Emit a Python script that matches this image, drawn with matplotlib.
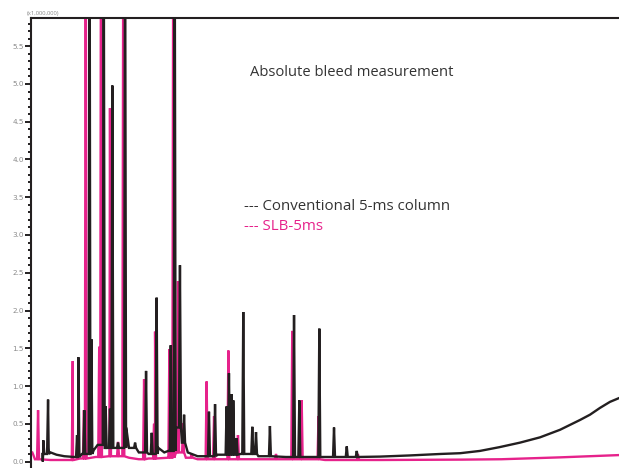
"""Column bleed comparison: conventional 5-ms column vs SLB-5ms (TIC overlay)."""
import matplotlib.pyplot as plt
import numpy as np
from matplotlib.ticker import MultipleLocator

BLACK = "#231f20"
PINK = "#e6228b"
TOP = 7.5  # off-scale peaks run past the top of the frame

# retention time (min), peak apex (x1,000,000 counts)
conv_peaks_t = [0.63, 0.87, 2.35, 2.42, 2.72, 2.99, 3.08, 3.71, 3.81, 4.03,
                4.15, 4.44, 4.80, 5.31, 5.87, 6.16, 6.41, 7.13, 7.33, 7.60,
                7.81, 9.08, 9.39, 9.98, 10.10, 10.24, 10.32, 10.49, 10.83,
                11.29, 11.48, 12.19, 13.42, 13.69, 14.71, 15.46, 16.11, 16.62]
conv_peaks_h = [0.28, 0.82, 0.35, 1.38, 0.68, TOP, 1.62, TOP, 0.73, 0.70,
                4.98, 0.25, TOP, 0.25, 1.20, 0.38, 2.17, 1.54, TOP, 2.60,
                0.62, 0.66, 0.76, 0.73, 1.17, 0.89, 0.81, 0.31, 1.98,
                0.46, 0.39, 0.47, 1.94, 0.81, 1.76, 0.45, 0.20, 0.14]

# baseline / bleed level of the conventional column
conv_base_t = [0.60, 0.62, 0.90, 1.00, 1.30, 1.70, 2.20, 2.60, 3.20, 3.40,
               3.80, 4.30, 4.86, 5.00, 5.50, 6.00, 6.50, 6.80, 7.00, 7.40,
               7.70, 8.00, 8.50, 9.50, 10.70, 11.60, 13.0, 15.0, 17.8, 19.3,
               20.9, 21.9, 22.9, 23.9, 24.95, 25.97, 26.99, 28.01, 28.52,
               29.03, 29.54, 30.0]
conv_base_y = [0.00, 0.10, 0.18, 0.12, 0.09, 0.07, 0.06, 0.10, 0.15, 0.22,
               0.18, 0.18, 0.45, 0.18, 0.12, 0.10, 0.18, 0.12, 0.14, 0.45,
               0.25, 0.12, 0.07, 0.09, 0.10, 0.07, 0.06, 0.06, 0.065, 0.08,
               0.10, 0.11, 0.14, 0.19, 0.25, 0.32, 0.42, 0.55, 0.62,
               0.71, 0.79, 0.84]

slb_peaks_t = [0.05, 0.36, 2.09, 2.13, 2.70, 2.79, 3.48, 3.57, 4.03, 4.44,
               4.71, 5.77, 6.28, 6.33, 7.06, 7.26, 7.50, 7.76, 8.20, 8.96,
               9.34, 10.07, 10.56, 12.50, 13.33, 13.81, 14.67, 16.68]
slb_peaks_h = [0.13, 0.68, 0.25, 1.33, 0.68, TOP, 1.52, TOP, 4.68, 0.26,
               TOP, 1.09, 0.50, 1.72, 1.49, TOP, 2.39, 0.51, 0.10, 1.06,
               0.60, 1.47, 0.35, 0.10, 1.73, 0.81, 0.60, 0.10]

slb_base_t = [0.00, 0.20, 1.00, 2.00, 2.50, 3.30, 4.00, 5.00, 5.50, 6.00,
              7.00, 7.40, 7.90, 8.50, 10.0, 15.0, 17.8, 22.0, 24.0, 27.0, 30.0]
slb_base_y = [0.10, 0.03, 0.02, 0.02, 0.04, 0.06, 0.07, 0.05, 0.03, 0.04,
              0.05, 0.12, 0.05, 0.03, 0.03, 0.02, 0.02, 0.025, 0.03, 0.055, 0.085]

HALF_WIDTH = 0.05  # peak half-width at the foot, min


def build_trace(peaks_t, peaks_h, base_t, base_y):
    """Merge baseline knots and narrow peaks into one polyline."""
    base_t = np.asarray(base_t)
    pts = list(zip(base_t, base_y))
    for t, h in zip(peaks_t, peaks_h):
        i = max(np.searchsorted(base_t, t, side="right") - 1, 0)
        foot = base_y[i]
        pts += [(t - HALF_WIDTH, foot), (t, h), (t + HALF_WIDTH, foot)]
    pts.sort(key=lambda p: p[0])
    t, y = zip(*pts)
    return np.array(t), np.array(y)


fig = plt.figure(figsize=(6.19, 4.68), dpi=100)
ax = fig.add_axes([31 / 619, 0.0, 588 / 619, 450 / 468])

t, y = build_trace(slb_peaks_t, slb_peaks_h, slb_base_t, slb_base_y)
ax.plot(t, y, color=PINK, lw=1.7, solid_joinstyle="miter")
t, y = build_trace(conv_peaks_t, conv_peaks_h, conv_base_t, conv_base_y)
ax.plot(t, y, color=BLACK, lw=1.7, solid_joinstyle="miter")

ax.set_xlim(0, 30)
ax.set_ylim(-0.086, 5.874)
ax.yaxis.set_major_locator(MultipleLocator(0.5))
ax.yaxis.set_minor_locator(MultipleLocator(0.1))
ax.yaxis.set_major_formatter(lambda v, pos: f"{v:.1f}")
ax.tick_params(axis="y", which="major", length=4.3, width=1.4, pad=0.8,
               labelsize=5.2, labelcolor="#8a8a8a", color=BLACK)
ax.tick_params(axis="y", which="minor", length=2.4, width=1.4, color=BLACK)
ax.set_xticks([])

for side in ("right", "bottom"):
    ax.spines[side].set_visible(False)
for side in ("left", "top"):
    ax.spines[side].set_linewidth(1.5)
    ax.spines[side].set_color(BLACK)

fig.text(27 / 619, 1 - 14 / 468, "(x1,000,000)", fontsize=4.2,
         color="#8a8a8a", va="center", ha="left", family="Open Sans")
fig.text(250 / 619, 1 - 73 / 468, "Absolute bleed measurement", fontsize=10.6,
         color="#333333", va="center", ha="left", family="Open Sans")
fig.text(244 / 619, 1 - 207 / 468, "--- Conventional 5-ms column", fontsize=10.8,
         color="#333333", va="center", ha="left", family="Open Sans")
fig.text(244 / 619, 1 - 226 / 468, "--- SLB-5ms", fontsize=10.8,
         color=PINK, va="center", ha="left", family="Open Sans")

fig.savefig("out.png", dpi=100)
